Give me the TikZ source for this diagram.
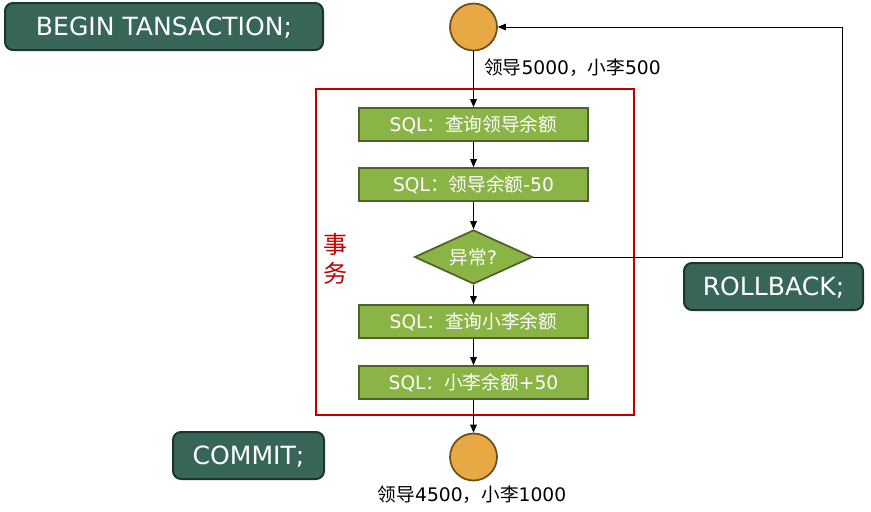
\documentclass[tikz,border=0pt]{standalone}
\usepackage{fontspec}
\setmainfont{DejaVu Sans}
\newfontfamily\cjk{Noto Sans CJK SC}
\usetikzlibrary{shapes.geometric,arrows.meta}
\definecolor{dkgreen}{HTML}{376557}
\definecolor{dkgreenline}{HTML}{1D3530}
\definecolor{lgreen}{HTML}{8BB446}
\definecolor{lgreenline}{HTML}{4F6228}
\definecolor{orangec}{HTML}{E8A844}
\definecolor{orangeline}{HTML}{6B4F1F}
\definecolor{redc}{HTML}{C00000}
\begin{document}
\begin{tikzpicture}[x=0.75pt,y=-0.75pt,
  cmdbox/.style={draw=dkgreenline,fill=dkgreen,line width=1.5pt,rounded corners=6pt,text=white,font=\fontsize{18.8}{20}\selectfont,inner sep=0pt,text height=13.7pt,text depth=0pt},
  sqlbox/.style={draw=lgreenline,fill=lgreen,line width=1.3pt,text=white,font=\fontsize{14}{15}\selectfont,minimum width=229*0.75pt,minimum height=33*0.75pt,inner sep=0pt},
  state/.style={circle,draw=orangeline,fill=orangec,line width=1.3pt,minimum size=47*0.75pt,inner sep=0pt},
  dec/.style={diamond,draw=lgreenline,fill=lgreen,line width=1.3pt,text=white,font=\fontsize{14}{15}\selectfont,inner sep=0pt,aspect=2.2,minimum width=118*0.75pt,minimum height=54*0.75pt},
  lbl/.style={font=\fontsize{14}{15}\selectfont,text=black,inner sep=0pt},
  arr/.style={-{Triangle[length=6pt,width=5pt]},line width=0.6pt,black}]
\useasboundingbox (0,0) rectangle (871,511);
% command boxes
\node[cmdbox,minimum width=318*0.75pt,minimum height=47*0.75pt] (begin) at (164,26.5) {BEGIN TANSACTION;};
\node[cmdbox,minimum width=179*0.75pt,minimum height=47*0.75pt] (rollback) at (773.5,286.5) {ROLLBACK;};
\node[cmdbox,minimum width=151*0.75pt,minimum height=47*0.75pt] (commit) at (248.5,455.5) {COMMIT;};
% transaction frame
\node[draw=redc,line width=1.3pt,minimum width=318*0.75pt,minimum height=326*0.75pt,inner sep=0pt] (frame) at (475,252) {};
\node[text=redc,font=\cjk\fontsize{18}{22}\selectfont,align=center,inner sep=0pt] (tx) at (335,259) {事\\务};
% states
\node[state] (s0) at (473.5,27) {};
\node[state] (s1) at (473.5,457) {};
\node[lbl,anchor=west] (l0) at (484,68) {{\cjk 领导}5000{\cjk ，小李}500};
\node[lbl] (l1) at (472,495) {{\cjk 领导}4500{\cjk ，小李}1000};
% steps
\node[sqlbox] (b1) at (473.5,124.5) {SQL{\cjk ：查询领导余额}};
\node[sqlbox] (b2) at (473.5,184.5) {SQL{\cjk ：领导余额}-50};
\node[dec] (d) at (473.5,257) {{\cjk 异常}?};
\node[sqlbox] (b3) at (473.5,321.5) {SQL{\cjk ：查询小李余额}};
\node[sqlbox] (b4) at (473.5,382.5) {SQL{\cjk ：小李余额}+50};
% connectors
\draw[arr] (s0) -- (b1);
\draw[arr] (b1) -- (b2);
\draw[arr] (b2) -- (d);
\draw[arr] (d) -- (b3);
\draw[arr] (b3) -- (b4);
\draw[arr] (b4) -- (s1);
\coordinate (c1) at (842,257);
\coordinate (c2) at (842,27);
\draw[arr] (d.east) -- (c1) -- (c2) -- (s0.east);
\end{tikzpicture}
\end{document}
